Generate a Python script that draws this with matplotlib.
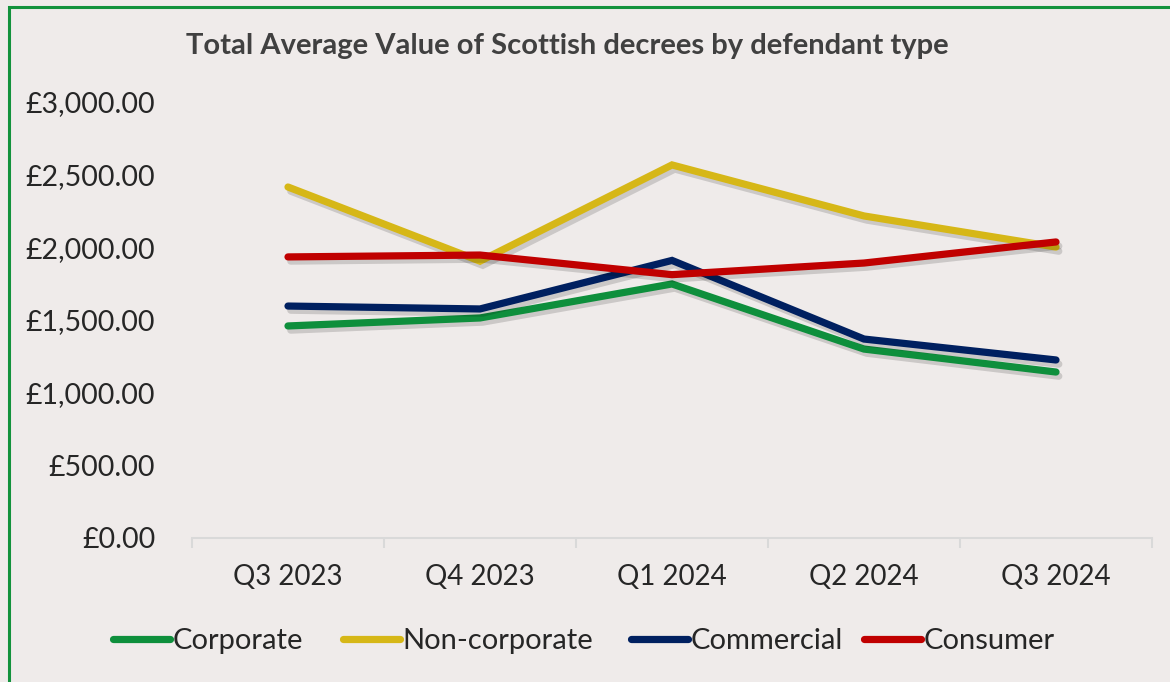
import matplotlib
matplotlib.use("Agg")
import matplotlib.pyplot as plt
import matplotlib.patheffects as pe
from matplotlib.ticker import FuncFormatter, FixedLocator
from matplotlib.lines import Line2D
from matplotlib.patches import Rectangle

categories = ["Q3 2023", "Q4 2023", "Q1 2024", "Q2 2024", "Q3 2024"]
corporate = [1459, 1514, 1748, 1300, 1142]
non_corporate = [2415, 1905, 2567, 2216, 2002]
commercial = [1596, 1576, 1910, 1369, 1225]
consumer = [1934, 1947, 1812, 1892, 2037]

series_names = ["Corporate", "Non-corporate", "Commercial", "Consumer"]
series_values = [corporate, non_corporate, commercial, consumer]
colors = ["#0E8F3C", "#D6B717", "#002060", "#C00000"]

plt.rcParams['font.family'] = ['Lato', 'DejaVu Sans']
bg = "#EFEBEA"
text_color = "#262626"

fig = plt.figure(figsize=(11.7, 6.82), dpi=100, facecolor=bg)
ax = fig.add_axes([192/1170, 1-538/682, (1152-192)/1170, (538-102)/682])
ax.set_facecolor(bg)

x = list(range(len(categories)))
for name, vals, c in zip(series_names, series_values, colors):
    ax.plot(x, vals, color=c, lw=5.2, solid_capstyle='round', solid_joinstyle='miter',
            label=name,
            path_effects=[pe.SimpleLineShadow(offset=(2, -3), shadow_color='k', alpha=0.15),
                          pe.Normal()])

ax.set_xlim(-0.5, len(categories) - 0.5)
ax.set_ylim(0, 3000)
ax.set_yticks([0, 500, 1000, 1500, 2000, 2500, 3000])
ax.yaxis.set_major_formatter(FuncFormatter(lambda v, p: f"£{v:,.2f}"))
ax.set_xticks(x)
ax.set_xticklabels(categories)
ax.xaxis.set_minor_locator(FixedLocator([i - 0.5 for i in range(len(categories) + 1)]))

for s in ["top", "right", "left"]:
    ax.spines[s].set_visible(False)
ax.spines["bottom"].set_color("#D9D9D9")
ax.spines["bottom"].set_linewidth(1.5)

ax.tick_params(axis='y', length=0, pad=26.5, labelsize=20.5, labelcolor=text_color)
ax.tick_params(axis='x', which='major', length=0, pad=19, labelsize=20, labelcolor=text_color)
ax.tick_params(axis='x', which='minor', length=7, width=1.5, color="#D9D9D9", direction='out')

fig.text(567/1170, 1-46/682, "Total Average Value of Scottish decrees by defendant type",
         ha='center', va='center', fontsize=21, fontweight='bold', color="#404040")

legend_x = [113, 343, 631, 864]
for name, c, lx in zip(series_names, colors, legend_x):
    h = Line2D([0], [0], color=c, lw=5.2, solid_capstyle='round')
    fig.legend([h], [name], loc='center left', bbox_to_anchor=(lx/1170, 1-641/682),
               frameon=False, fontsize=21, handlelength=1.95, handletextpad=0.1,
               borderpad=0, borderaxespad=0, labelcolor=text_color)

fig.patches.append(Rectangle((9/1170, -0.05), 1.2, (682-7)/682 + 0.05, transform=fig.transFigure,
                             fill=False, edgecolor="#13923C", lw=2.2))

fig.savefig("out.png", dpi=100, facecolor=bg)
